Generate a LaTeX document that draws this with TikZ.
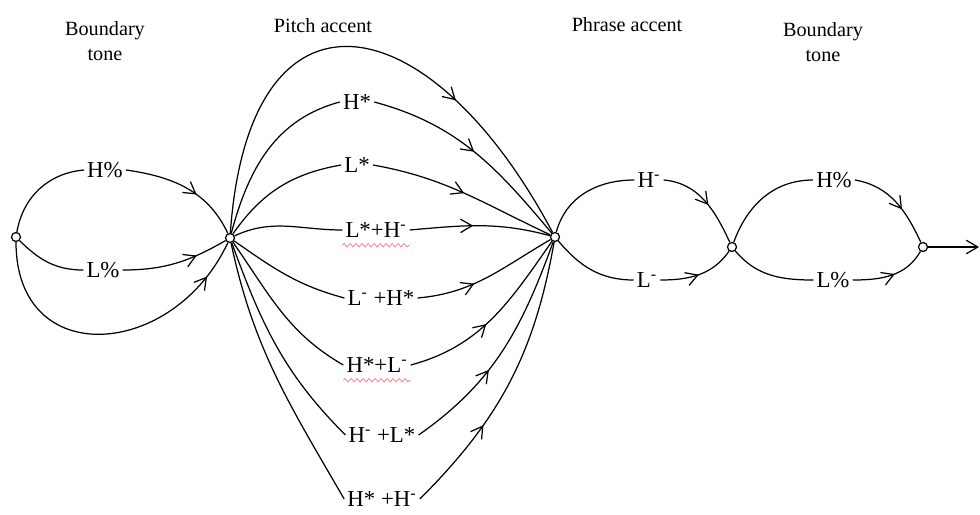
\documentclass[tikz,border=0pt]{standalone}
\usepackage{fontspec}
\setmainfont{Liberation Serif}
\usetikzlibrary{arrows.meta,decorations.markings,decorations.pathmorphing,positioning}

\tikzset{
  dot/.style={circle,draw,fill=white,inner sep=0pt,minimum size=1.8mm},
  tone/.style={font=\fontsize{13}{15}\selectfont,inner sep=1.5pt},
  head/.style={font=\fontsize{11.5}{14.2}\selectfont,align=center},
  midtip/.style={postaction={decorate},
    decoration={markings,mark=at position #1 with {\arrow{Straight Barb[length=2.3mm,width=2.7mm]}}}},
  midtip/.default=0.5,
  squiggle/.style={draw=red!55,line width=0.4pt,decorate,
    decoration={snake,amplitude=0.35mm,segment length=1.2mm}}
}
\newcommand{\mn}{\textsuperscript{-}}

\begin{document}
\begin{tikzpicture}[x=0.02cm,y=-0.02cm,line width=0.7pt]
            \useasboundingbox (0,0) rectangle (980,514);

            % headings
            \node[head] (hbnd1)  at (105,41)  {Boundary\\tone};
            \node[head] (hpitch) at (323,26)  {Pitch accent};
            \node[head] (hphr)   at (627,25)  {Phrase accent};
            \node[head] (hbnd2)  at (823,42)  {Boundary\\tone};

            % states
            \node[dot] (s0) at (16,237)  {};
            \node[dot] (s1) at (230,238) {};
            \node[dot] (s2) at (555,237) {};
            \node[dot] (s3) at (732,247) {};
            \node[dot] (s4) at (923,247) {};
            \coordinate (fin) at (979,247);

            % tone labels
            \node[tone] (hpa)  at (105,170) {H\%};
            \node[tone] (lpa)  at (103,270) {L\%};
            \node[tone] (hs)   at (357,102) {H*};
            \node[tone] (ls)   at (357,165) {L*};
            \node[tone] (lshm) at (376,230) {L*+H\mn};
            \node[tone] (lmhs) at (381,298) {L\mn{} +H*};
            \node[tone] (hslm) at (377,365) {H*+L\mn};
            \node[tone] (hmls) at (382,435) {H\mn{} +L*};
            \node[tone] (hshm) at (382,499) {H* +H\mn};
            \node[tone] (hm)   at (649,180) {H\mn};
            \node[tone] (lm)   at (647,280) {L\mn};
            \node[tone] (hpb)  at (834,180) {H\%};
            \node[tone] (lpb)  at (833,280) {L\%};

            % boundary tone, left
            \path
                    (s0)      edge [out=80,in=185]             (hpa.west)
                    (hpa.east) edge [out=-8,in=115,midtip=0.6]  (s1)
                    (s0)      edge [out=-45,in=180]            (lpa.west)
                    (lpa.east) edge [out=0,in=-150,midtip=0.7]  (s1)
                    (s0)      edge [out=-90,in=-115,looseness=1.55,midtip=0.87] (s1)
                ;

            % pitch accents
            \path
                    (s1) edge [out=86,in=118,looseness=2.1,midtip=0.69] (s2)
                    (s1)       edge [out=75,in=195]             (hs.west)
                    (hs.east)  edge [out=-15,in=130,midtip=0.5] (s2)
                    (s1)       edge [out=55,in=190]             (ls.west)
                    (ls.east)  edge [out=-10,in=155,midtip=0.5] (s2)
                    (s1)       edge [out=25,in=180]             (lshm.west)
                    (lshm.east) edge [out=5,in=165,midtip=0.45] (s2)
                    (s1)       edge [out=-35,in=165]            (lmhs.west)
                    (lmhs.east) edge [out=5,in=-150,midtip=0.4] (s2)
                    (s1)       edge [out=-55,in=150]            (hslm.west)
                    (hslm.east) edge [out=15,in=-125,midtip=0.45] (s2)
                    (s1)       edge [out=-70,in=135]            (hmls.west)
                    (hmls.east) edge [out=35,in=-110,midtip=0.4] (s2)
                    (s1)       edge [out=-78,in=120]            (hshm.west)
                    (hshm.east) edge [out=45,in=-100,midtip=0.33] (s2)
                ;

            % phrase accents
            \path
                    (s2)      edge [out=75,in=180]              (hm.west)
                    (hm.east)  edge [out=-5,in=115,midtip=0.55]  (s3)
                    (s2)      edge [out=-50,in=180]             (lm.west)
                    (lm.east)  edge [out=0,in=-125,midtip=0.5]   (s3)
                ;

            % boundary tone, right
            \path
                    (s3)      edge [out=70,in=180]              (hpb.west)
                    (hpb.east) edge [out=-10,in=115,midtip=0.6]  (s4)
                    (s3)      edge [out=-50,in=180]             (lpb.west)
                    (lpb.east) edge [out=0,in=-120,midtip=0.55]  (s4)
                    (s4)      edge [-{Straight Barb[length=2.3mm,width=2.7mm]}] (fin)
                ;

            % spell-check marks
            \draw[squiggle] ([yshift=-0.9mm]lshm.south west) -- ([yshift=-0.9mm]lshm.south east);
            \draw[squiggle] ([yshift=-0.9mm]hslm.south west) -- ([yshift=-0.9mm]hslm.south east);
        \end{tikzpicture}
\end{document}
